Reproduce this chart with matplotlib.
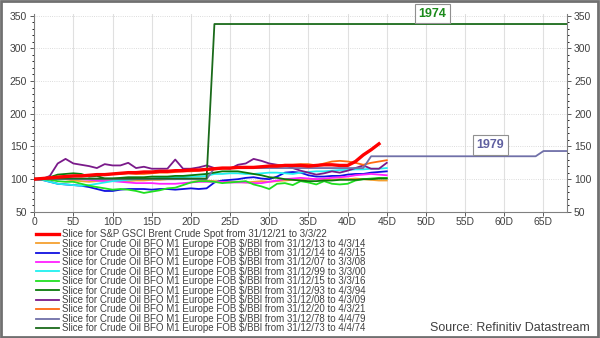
import matplotlib
matplotlib.use("Agg")
import matplotlib.pyplot as plt
from matplotlib.patches import Rectangle
from matplotlib.ticker import MultipleLocator
import numpy as np

plt.rcParams["font.family"] = ["Liberation Sans", "DejaVu Sans"]

# x positions are trading days since the start of each slice
x_ticks = [0, 5, 10, 15, 20, 25, 30, 35, 40, 45, 50, 55, 60, 65]
x_labels = ["0", "5D", "10D", "15D", "20D", "25D", "30D", "35D", "40D", "45D", "50D", "55D", "60D", "65D"]

labels = [
    "Slice for S&P GSCI Brent Crude Spot from 31/12/21 to 3/3/22",
    "Slice for Crude Oil BFO M1 Europe FOB $/BBl from 31/12/13 to 4/3/14",
    "Slice for Crude Oil BFO M1 Europe FOB $/BBl from 31/12/14 to 4/3/15",
    "Slice for Crude Oil BFO M1 Europe FOB $/BBl from 31/12/07 to 3/3/08",
    "Slice for Crude Oil BFO M1 Europe FOB $/BBl from 31/12/99 to 3/3/00",
    "Slice for Crude Oil BFO M1 Europe FOB $/BBl from 31/12/15 to 3/3/16",
    "Slice for Crude Oil BFO M1 Europe FOB $/BBl from 31/12/93 to 4/3/94",
    "Slice for Crude Oil BFO M1 Europe FOB $/BBl from 31/12/08 to 4/3/09",
    "Slice for Crude Oil BFO M1 Europe FOB $/BBl from 31/12/20 to 4/3/21",
    "Slice for Crude Oil BFO M1 Europe FOB $/BBl from 31/12/78 to 4/4/79",
    "Slice for Crude Oil BFO M1 Europe FOB $/BBl from 31/12/73 to 4/4/74",
]
colors = ["#ff0000", "#f5a030", "#1010e0", "#ff20ff", "#20f0f0", "#20e020",
          "#0a7a0a", "#7a1a8a", "#ff6a10", "#7070a8", "#1a6a1a"]

s2022 = [100, 101, 102, 103, 104, 105, 105, 106, 107, 107, 108, 109, 110, 110, 111, 111,
         112, 112, 113, 113, 114, 114, 115, 116, 117, 117, 118, 118, 118, 119, 120, 120,
         121, 121, 121, 120, 121, 122, 122, 121, 121, 127, 137, 145, 154]
s2014 = [100, 101, 102, 101, 100, 98, 97, 96, 97, 98, 98, 97, 97, 98, 98, 99, 99, 100,
         100, 101, 100, 99, 98, 97, 97, 96, 96, 95, 96, 97, 96, 97, 98, 99, 99, 100, 100,
         99, 99, 100, 100, 101, 100, 99, 98, 98]
s2015 = [100, 99, 96, 93, 92, 91, 90, 88, 85, 82, 82, 84, 85, 85, 85, 84, 85, 85, 84,
         85, 86, 85, 86, 95, 98, 99, 100, 102, 103, 101, 100, 104, 110, 111, 110, 106,
         104, 104, 105, 105, 107, 108, 108, 110, 111, 112]
s2008 = [100, 101, 102, 103, 102, 101, 100, 99, 98, 97, 97, 96, 95, 94, 94, 94, 93, 93,
         93, 94, 95, 96, 96, 96, 96, 95, 95, 95, 94, 94, 96, 98, 100, 101, 102, 101, 100,
         101, 102, 103, 104, 106, 107, 108, 107, 106]
s2000 = [100, 99, 96, 93, 92, 91, 90, 91, 93, 95, 97, 98, 99, 100, 101, 101, 102, 102,
         103, 103, 104, 104, 105, 108, 108, 109, 109, 108, 108, 109, 110, 110, 109, 108,
         110, 111, 112, 112, 113, 114, 114, 115, 115, 116, 116, 117]
s2016 = [100, 100, 99, 97, 96, 96, 93, 90, 88, 86, 84, 85, 84, 82, 79, 81, 83, 86, 87,
         91, 95, 97, 97, 96, 94, 95, 96, 97, 92, 89, 85, 93, 94, 91, 97, 95, 92, 97, 93,
         92, 93, 98, 100, 101, 102, 102]
s1994 = [100, 100, 103, 107, 108, 109, 108, 104, 105, 101, 101, 102, 103, 103, 103, 104,
         104, 104, 105, 105, 106, 107, 108, 110, 112, 112, 112, 110, 108, 106, 103, 102,
         100, 99, 98, 97, 97, 98, 98, 99, 99, 99, 100, 100, 101, 101]
s2009 = [100, 100, 105, 124, 131, 124, 122, 120, 117, 123, 121, 121, 125, 117, 119, 116,
         116, 116, 130, 116, 116, 118, 121, 117, 117, 116, 122, 124, 131, 128, 124, 122,
         121, 117, 113, 110, 107, 109, 112, 110, 113, 117, 121, 116, 116, 125]
s2021 = [100, 101, 103, 104, 105, 105, 106, 106, 107, 107, 108, 108, 109, 108, 108, 109,
         110, 110, 111, 112, 112, 113, 114, 115, 116, 117, 118, 118, 118, 119, 120, 121,
         122, 122, 123, 123, 121, 124, 127, 128, 127, 125, 122, 125, 127, 129]
s1979 = [100] * 23 + [117] * 20 + [135] * 22 + [143] * 4
s1974 = [101] * 23 + [337] * 46

series = [s2022, s2014, s2015, s2008, s2000, s2016, s1994, s2009, s2021, s1979, s1974]

fig = plt.figure(figsize=(6, 3.38), dpi=100)
ax = fig.add_axes([0.057, 0.373, 0.888, 0.585])

for vals, col, lab in zip(series, colors, labels):
    lw = 2.4 if col == "#ff0000" else 1.3
    z = 5 if col == "#ff0000" else 3
    ax.plot(np.arange(len(vals)), vals, color=col, lw=lw, label=lab, zorder=z)

ax.set_xlim(0, 68)
ax.set_ylim(50, 352)
ax.set_xticks(x_ticks)
ax.set_xticklabels(x_labels)
ax.set_yticks(range(50, 351, 50))
ax.yaxis.set_minor_locator(MultipleLocator(10))
ax.tick_params(axis="both", labelsize=7.5, colors="#404040", length=3, width=0.6, pad=2)
ax.tick_params(axis="x", pad=1)
ax.tick_params(axis="y", which="both", right=True, labelright=True)
ax.tick_params(axis="y", which="minor", length=1.5)
ax.grid(axis="x", color="#e0e0e0", lw=0.8)
ax.grid(axis="y", color="#d0d0d0", lw=0.6, ls=":")
ax.set_axisbelow(True)
ax.spines["top"].set_visible(False)
for sp in ("left", "right", "bottom"):
    ax.spines[sp].set_color("#808080")
    ax.spines[sp].set_linewidth(0.8)

ax.text(50.8, 353, "1974", color="#1a8a1a", fontsize=9, fontweight="bold",
        ha="center", va="center", zorder=6, clip_on=False,
        bbox=dict(boxstyle="square,pad=0.3", fc="white", ec="#909090", lw=0.8))
ax.text(58.2, 152.5, "1979", color="#6060a0", fontsize=9, fontweight="bold",
        ha="center", va="center", zorder=6,
        bbox=dict(boxstyle="square,pad=0.3", fc="white", ec="#909090", lw=0.8))

leg = fig.legend(loc="upper left", bbox_to_anchor=(0.060, 0.322), frameon=False,
                 fontsize=7, labelspacing=-0.06, handlelength=2.4, handletextpad=0.3,
                 borderaxespad=0, borderpad=0)
for t in leg.get_texts():
    t.set_color("#404040")

fig.text(0.983, 0.012, "Source: Refinitiv Datastream", ha="right", va="bottom",
         fontsize=9, color="#404040")

fig.patches.append(Rectangle((0.002, 0.003), 0.995, 0.994, transform=fig.transFigure,
                             fill=False, ec="#707070", lw=2))

fig.savefig("out.png", dpi=100)
